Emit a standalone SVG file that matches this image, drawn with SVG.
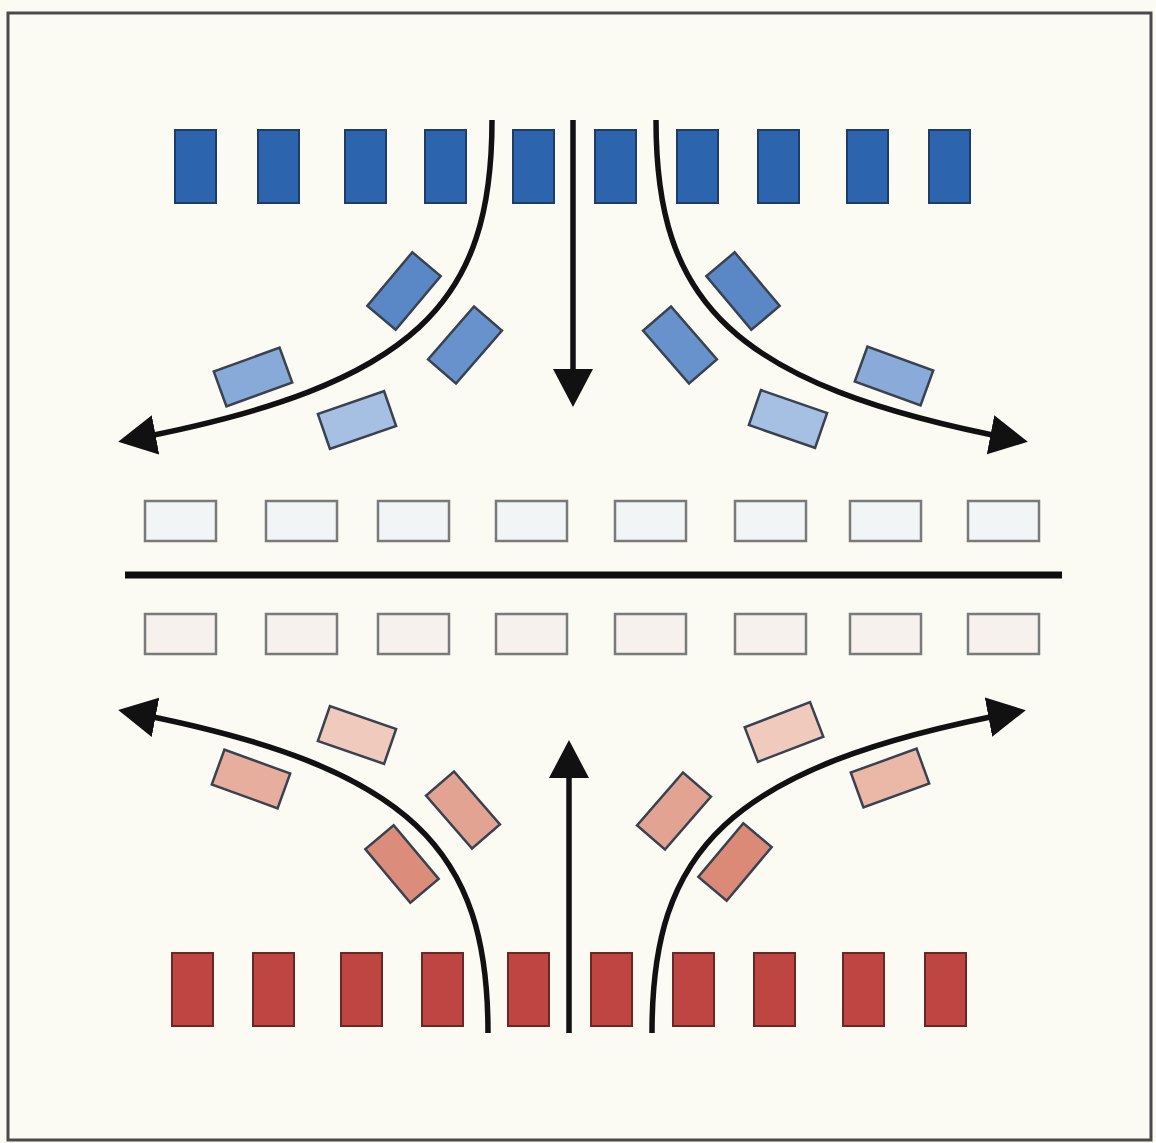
<svg xmlns="http://www.w3.org/2000/svg" width="1156" height="1143" viewBox="0 0 1156 1143">
<style>
.bg{fill:#fbfbf4}
.frame{fill:none;stroke:#4a4a4a;stroke-width:3}
.bcar{fill:#2c64ae;stroke:#1d3c68;stroke-width:2}
.rcar{fill:#bf4542;stroke:#6a2724;stroke-width:2}
.tcar{stroke:#3a4250;stroke-width:2.5}
.ob{fill:#f1f5f6;stroke:#7a7a7a;stroke-width:2.5}
.or{fill:#f6f1ec;stroke:#7a7a7a;stroke-width:2.5}
.flow{fill:none;stroke:#111;stroke-width:5.5}
.divider{stroke:#0d0d0d;stroke-width:7}
</style>
<defs>
<marker id="ah" viewBox="0 0 38 40" refX="28" refY="20" markerWidth="38" markerHeight="40" markerUnits="userSpaceOnUse" orient="auto">
<path d="M0,0 L38,20 L0,40 Z" fill="#111"/>
</marker>
</defs>
<rect class="bg" x="0" y="0" width="1156" height="1143"/>
<rect class="frame" x="8" y="13" width="1143" height="1127"/>

<g id="top-row">
<rect class="bcar" x="175" y="130" width="41" height="73"/>
<rect class="bcar" x="258" y="130" width="41" height="73"/>
<rect class="bcar" x="345" y="130" width="41" height="73"/>
<rect class="bcar" x="425" y="130" width="41" height="73"/>
<rect class="bcar" x="513" y="130" width="41" height="73"/>
<rect class="bcar" x="595" y="130" width="41" height="73"/>
<rect class="bcar" x="677" y="130" width="41" height="73"/>
<rect class="bcar" x="758" y="130" width="41" height="73"/>
<rect class="bcar" x="847" y="130" width="41" height="73"/>
<rect class="bcar" x="929" y="130" width="41" height="73"/>
</g>

<g id="top-turning">
<rect class="tcar" fill="#5a87c5" x="-18.5" y="-35" width="37" height="70" transform="translate(404,291) rotate(40)"/>
<rect class="tcar" fill="#6792cc" x="-18.5" y="-35" width="37" height="70" transform="translate(465,345) rotate(41)"/>
<rect class="tcar" fill="#88aad9" x="-35" y="-18.5" width="70" height="37" transform="translate(253,377) rotate(-20)"/>
<rect class="tcar" fill="#a6c0e4" x="-35" y="-18.5" width="70" height="37" transform="translate(357,420) rotate(-19)"/>
<rect class="tcar" fill="#5a87c5" x="-18.5" y="-35" width="37" height="70" transform="translate(743,291) rotate(-40)"/>
<rect class="tcar" fill="#6792cc" x="-18.5" y="-35" width="37" height="70" transform="translate(680,345) rotate(-41)"/>
<rect class="tcar" fill="#8aabda" x="-35" y="-18.5" width="70" height="37" transform="translate(894,376) rotate(20)"/>
<rect class="tcar" fill="#a6c0e4" x="-35" y="-18.5" width="70" height="37" transform="translate(788,419) rotate(19)"/>
</g>

<g id="middle-rows">
<rect class="ob" x="145" y="501" width="71" height="40"/>
<rect class="ob" x="266" y="501" width="71" height="40"/>
<rect class="ob" x="378" y="501" width="71" height="40"/>
<rect class="ob" x="496" y="501" width="71" height="40"/>
<rect class="ob" x="615" y="501" width="71" height="40"/>
<rect class="ob" x="735" y="501" width="71" height="40"/>
<rect class="ob" x="850" y="501" width="71" height="40"/>
<rect class="ob" x="968" y="501" width="71" height="40"/>
<line class="divider" x1="125" y1="575" x2="1062" y2="575"/>
<rect class="or" x="145" y="614" width="71" height="40"/>
<rect class="or" x="266" y="614" width="71" height="40"/>
<rect class="or" x="378" y="614" width="71" height="40"/>
<rect class="or" x="496" y="614" width="71" height="40"/>
<rect class="or" x="615" y="614" width="71" height="40"/>
<rect class="or" x="735" y="614" width="71" height="40"/>
<rect class="or" x="850" y="614" width="71" height="40"/>
<rect class="or" x="968" y="614" width="71" height="40"/>
</g>

<g id="bottom-turning">
<rect class="tcar" fill="#dc8c7b" x="-18.5" y="-35" width="37" height="70" transform="translate(402,864) rotate(-40)"/>
<rect class="tcar" fill="#e3a392" x="-18.5" y="-35" width="37" height="70" transform="translate(463,810) rotate(-41)"/>
<rect class="tcar" fill="#e7ad9d" x="-35" y="-18.5" width="70" height="37" transform="translate(251,779) rotate(20)"/>
<rect class="tcar" fill="#f0cbbd" x="-35" y="-18.5" width="70" height="37" transform="translate(357,735) rotate(19)"/>
<rect class="tcar" fill="#dc8a78" x="-18.5" y="-35" width="37" height="70" transform="translate(735,862) rotate(40)"/>
<rect class="tcar" fill="#e3a392" x="-18.5" y="-35" width="37" height="70" transform="translate(674,811) rotate(41)"/>
<rect class="tcar" fill="#ebb8a8" x="-35" y="-18.5" width="70" height="37" transform="translate(890,778) rotate(-20)"/>
<rect class="tcar" fill="#f0cbbd" x="-35" y="-18.5" width="70" height="37" transform="translate(784,732) rotate(-21)"/>
</g>

<g id="bottom-row">
<rect class="rcar" x="172" y="953" width="41" height="73"/>
<rect class="rcar" x="253" y="953" width="41" height="73"/>
<rect class="rcar" x="341" y="953" width="41" height="73"/>
<rect class="rcar" x="422" y="953" width="41" height="73"/>
<rect class="rcar" x="508" y="953" width="41" height="73"/>
<rect class="rcar" x="591" y="953" width="41" height="73"/>
<rect class="rcar" x="673" y="953" width="41" height="73"/>
<rect class="rcar" x="754" y="953" width="41" height="73"/>
<rect class="rcar" x="843" y="953" width="41" height="73"/>
<rect class="rcar" x="925" y="953" width="41" height="73"/>
</g>

<g id="connectors">
<path class="flow" marker-end="url(#ah)" d="M492,120 C492,300 420,385 128,440"/>
<path class="flow" marker-end="url(#ah)" d="M573,120 L573,397"/>
<path class="flow" marker-end="url(#ah)" d="M656,120 C656,300 728,385 1018,440"/>
<path class="flow" marker-end="url(#ah)" d="M488,1033 C488,852 416,767 128,712"/>
<path class="flow" marker-end="url(#ah)" d="M569,1033 L569,750"/>
<path class="flow" marker-end="url(#ah)" d="M652,1033 C652,852 724,767 1016,712"/>
</g>
</svg>
